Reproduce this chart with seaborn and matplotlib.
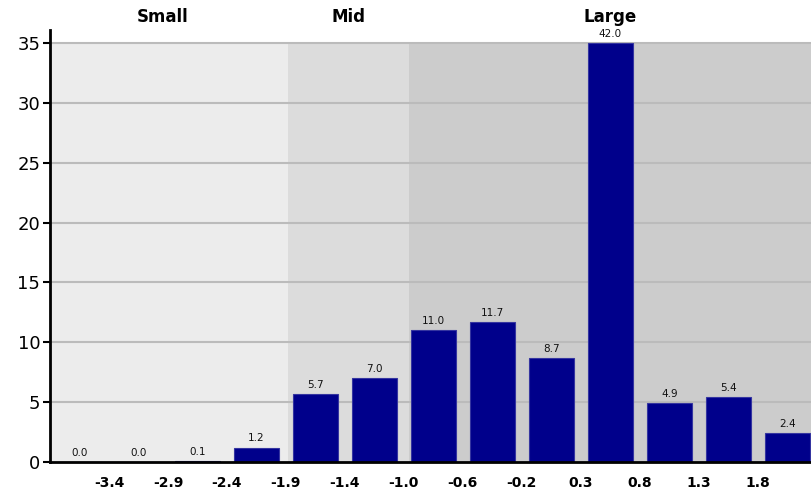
import numpy as np
import pandas as pd
import seaborn as sns
import matplotlib.pyplot as plt
from matplotlib.patches import Rectangle

# bar heights (percent), one bar per bin
values = [0.0, 0.0, 0.1, 1.2, 5.7, 7.0, 11.0, 11.7, 8.7, 42.0, 4.9, 5.4, 2.4]
# bin edge labels shown between the bars
edge_labels = ["-3.4", "-2.9", "-2.4", "-1.9", "-1.4", "-1.0",
               "-0.6", "-0.2", "0.3", "0.8", "1.3", "1.8"]
# shaded groups: name, start, end (in bar index units)
groups = ["Small", "Mid", "Large"]
group_start = [-0.5, 3.53, 5.58]
group_end = [3.53, 5.58, 12.42]
group_colors = ["#ececec", "#dcdcdc", "#cccccc"]

ymax = 35

sns.set_style("white")
plt.rcParams['font.family'] = ['DejaVu Sans']
plt.rcParams['text.color'] = 'black'
plt.rcParams['xtick.color'] = 'black'
plt.rcParams['ytick.color'] = 'black'

fig = plt.figure(figsize=(8.12, 4.93), dpi=100)
ax = fig.add_axes([50 / 812, 31 / 493, 762 / 812, 432 / 493])

df = pd.DataFrame({"bin": range(len(values)),
                   "value": np.minimum(values, ymax)})

for s, e, c in zip(group_start, group_end, group_colors):
    ax.add_patch(Rectangle((s, 0), e - s, ymax, facecolor=c, edgecolor="none", zorder=0))

for y in range(5, ymax + 1, 5):
    ax.axhline(y, color="#bbbbbb", lw=1.5, zorder=1)

sns.barplot(data=df, x="bin", y="value", color="#00008b", width=0.77,
            saturation=1, edgecolor="#3535a0", linewidth=0.8, ax=ax, zorder=2)

for i, v in enumerate(values):
    ax.annotate(f"{v:.1f}", (i, min(v, ymax)), xytext=(0, 3), textcoords="offset points",
                ha="center", va="bottom", fontsize=7.5, color="#111111")

for name, s, e in zip(groups, group_start, group_end):
    ax.text((s + e) / 2 - (0.1 if name == "Small" else 0), 37.2, name, ha="center", va="center",
            fontsize=12, fontweight="bold", color="black", clip_on=False)

ax.set_xlim(-0.5, 12.42)
ax.set_ylim(0, 36.1)
ax.set_xticks(np.arange(len(edge_labels)) + 0.5)
ax.set_xticklabels(edge_labels, fontweight="bold", fontsize=10)
ax.set_yticks(range(0, ymax + 1, 5))
ax.tick_params(axis="x", length=0, pad=10)
ax.tick_params(axis="y", length=5, width=1.5, labelsize=13, left=True, pad=2)
ax.set_xlabel("")
ax.set_ylabel("")

for side in ["top", "right"]:
    ax.spines[side].set_visible(False)
for side in ["left", "bottom"]:
    ax.spines[side].set_color("black")
    ax.spines[side].set_linewidth(2)

fig.savefig("out.png", dpi=100)
